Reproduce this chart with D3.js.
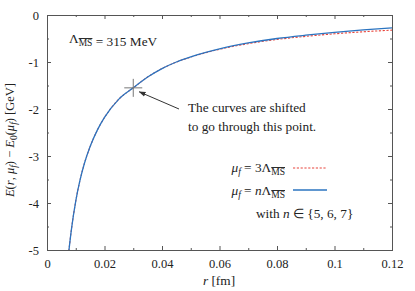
<!DOCTYPE html>
<html><head><meta charset="utf-8">
<script src="https://cdn.jsdelivr.net/npm/d3@7"></script>
<style>
body{margin:0;background:#fff;}
</style></head>
<body><svg id="c" width="415" height="291"></svg>
<script>
// data
const rBlue = [0.0076,0.0085,0.010,0.0115,0.013,0.015,0.0175,0.020,0.025,0.030,0.035,0.040,0.045,0.050,0.060,0.070,0.080,0.090,0.100,0.110,0.120];
const eBlue = [-5.02,-4.56,-3.96,-3.51,-3.16,-2.80,-2.45,-2.18,-1.79,-1.55,-1.32,-1.14,-1.00,-0.89,-0.72,-0.595,-0.50,-0.43,-0.37,-0.318,-0.272];
const eRed  = [-5.02,-4.56,-3.96,-3.51,-3.16,-2.80,-2.45,-2.18,-1.79,-1.55,-1.32,-1.14,-1.002,-0.895,-0.73,-0.61,-0.52,-0.455,-0.40,-0.357,-0.322];
const shiftPoint = {r:0.03, e:-1.55};
const xTicks = [0,0.02,0.04,0.06,0.08,0.1,0.12];
const xMinor = [0.01,0.03,0.05,0.07,0.09,0.11];
const yTicks = [0,-1,-2,-3,-4,-5];
const yMinor = [-0.5,-1.5,-2.5,-3.5,-4.5];

const FONT = "Liberation Serif";
const svg = d3.select("#c").attr("font-family", FONT);
const L=47,R=392,T=15,B=250;
const x = d3.scaleLinear().domain([0,0.12]).range([L,R]);
const y = d3.scaleLinear().domain([-5,0]).range([B,T]);
const fmtX = d => d===0?"0":String(d);
const frame="#555";
const fs=13.3, fsTick=12.5, fsSub=9.5;

function styleAxis(g){g.attr("font-family",FONT);g.select(".domain").attr("stroke",frame);g.selectAll(".tick line").attr("stroke",frame);g.selectAll(".tick text").attr("font-family",FONT).attr("font-size",fsTick).attr("fill","#222");}

// minor ticks
svg.append("g").attr("transform",`translate(0,${B})`).call(d3.axisBottom(x).tickValues(xMinor).tickSize(-2).tickFormat("")).call(styleAxis);
svg.append("g").attr("transform",`translate(0,${T})`).call(d3.axisTop(x).tickValues(xMinor).tickSize(-2).tickFormat("")).call(styleAxis);
svg.append("g").attr("transform",`translate(${L},0)`).call(d3.axisLeft(y).tickValues(yMinor).tickSize(-2).tickFormat("")).call(styleAxis);
svg.append("g").attr("transform",`translate(${R},0)`).call(d3.axisRight(y).tickValues(yMinor).tickSize(-2).tickFormat("")).call(styleAxis);
// major
svg.append("g").attr("transform",`translate(0,${B})`).call(d3.axisBottom(x).tickValues(xTicks).tickSize(-4).tickPadding(9).tickFormat(fmtX)).call(styleAxis);
svg.append("g").attr("transform",`translate(0,${T})`).call(d3.axisTop(x).tickValues(xTicks).tickSize(-4).tickFormat("")).call(styleAxis);
svg.append("g").attr("transform",`translate(${L},0)`).call(d3.axisLeft(y).tickValues(yTicks).tickSize(-4).tickPadding(8).tickFormat(d=>d===0?"0":"-"+Math.abs(d))).call(styleAxis);
svg.append("g").attr("transform",`translate(${R},0)`).call(d3.axisRight(y).tickValues(yTicks).tickSize(-4).tickFormat("")).call(styleAxis);

// clip
svg.append("clipPath").attr("id","pa").append("rect").attr("x",L).attr("y",T).attr("width",R-L).attr("height",B-T);
const line = d3.line().curve(d3.curveMonotoneX).x(d=>x(d[0])).y(d=>y(d[1]));
const red="#e8453c", blue="#2b74c0";
svg.append("path").attr("clip-path","url(#pa)").datum(rBlue.map((r,i)=>[r,eRed[i]]))
  .attr("d",line).attr("fill","none").attr("stroke",red).attr("stroke-width",1.1).attr("stroke-dasharray","2.2,1.6");
svg.append("path").attr("clip-path","url(#pa)").datum(rBlue.map((r,i)=>[r,eBlue[i]]))
  .attr("d",line).attr("fill","none").attr("stroke",blue).attr("stroke-width",1.3);

// cross marker
const cx=x(shiftPoint.r), cy=y(shiftPoint.e);
svg.append("line").attr("x1",cx-9).attr("x2",cx+9).attr("y1",cy).attr("y2",cy).attr("stroke","#777").attr("stroke-width",1);
svg.append("line").attr("x1",cx).attr("x2",cx).attr("y1",cy-9).attr("y2",cy+9).attr("stroke","#777").attr("stroke-width",1);

// arrow
svg.append("defs").append("marker").attr("id","ah").attr("viewBox","0 0 10 10").attr("refX",9).attr("refY",5)
  .attr("markerWidth",7).attr("markerHeight",7).attr("orient","auto")
  .append("path").attr("d","M0,1.5 L10,5 L0,8.5 Z").attr("fill","#333");
svg.append("line").attr("x1",179).attr("y1",109).attr("x2",cx+6).attr("y2",cy+4)
  .attr("stroke","#333").attr("stroke-width",1).attr("marker-end","url(#ah)");

function txt(xp,yp,size){return svg.append("text").attr("x",xp).attr("y",yp).attr("font-size",size||fs).attr("font-family",FONT).attr("fill","#222");}
// helper: Λ with overlined MS subscript
function lambdaMS(t){
  t.append("tspan").text("Λ");
  t.append("tspan").attr("font-size",fsSub).attr("dy",3).attr("text-decoration","overline").text("MS");
  t.append("tspan").attr("dy",-3).text("");
}
let t = txt(69,43);
lambdaMS(t); t.append("tspan").text(" = 315 MeV");

txt(188,112).text("The curves are shifted");
txt(188,131).text("to go through this point.");

// legend
function mu(t){t.append("tspan").attr("font-style","italic").text("μ");t.append("tspan").attr("font-style","italic").attr("font-size",fsSub).attr("dy",3).text("f");t.append("tspan").attr("dy",-3).text(" = ");}
t = txt(285,172).attr("text-anchor","end");
mu(t); t.append("tspan").text("3"); lambdaMS(t);
svg.append("line").attr("x1",293).attr("x2",327).attr("y1",168).attr("y2",168).attr("stroke",red).attr("stroke-width",1.1).attr("stroke-dasharray","2.2,1.6");
t = txt(285,195).attr("text-anchor","end");
mu(t); t.append("tspan").attr("font-style","italic").text("n"); lambdaMS(t);
svg.append("line").attr("x1",293).attr("x2",327).attr("y1",190).attr("y2",190).attr("stroke",blue).attr("stroke-width",1.3);
t = txt(256,218);
t.append("tspan").text("with "); t.append("tspan").attr("font-style","italic").text("n"); t.append("tspan").text(" ∈ {5, 6, 7}");

// axis labels
t = txt(219,285).attr("text-anchor","middle");
t.append("tspan").attr("font-style","italic").text("r"); t.append("tspan").text(" [fm]");

t = txt(0,0,12.5).attr("transform","translate(14,140) rotate(-90)").attr("text-anchor","middle");
t.append("tspan").attr("font-style","italic").text("E");
t.append("tspan").text("(");
t.append("tspan").attr("font-style","italic").text("r");
t.append("tspan").text(", ");
t.append("tspan").attr("font-style","italic").text("μ");
t.append("tspan").attr("font-style","italic").attr("font-size",fsSub).attr("dy",3).text("f");
t.append("tspan").attr("dy",-3).text(") − ");
t.append("tspan").attr("font-style","italic").text("E");
t.append("tspan").attr("font-size",fsSub).attr("dy",3).text("0");
t.append("tspan").attr("dy",-3).text("(");
t.append("tspan").attr("font-style","italic").text("μ");
t.append("tspan").attr("font-style","italic").attr("font-size",fsSub).attr("dy",3).text("f");
t.append("tspan").attr("dy",-3).text(") [GeV]");
</script></body></html>
